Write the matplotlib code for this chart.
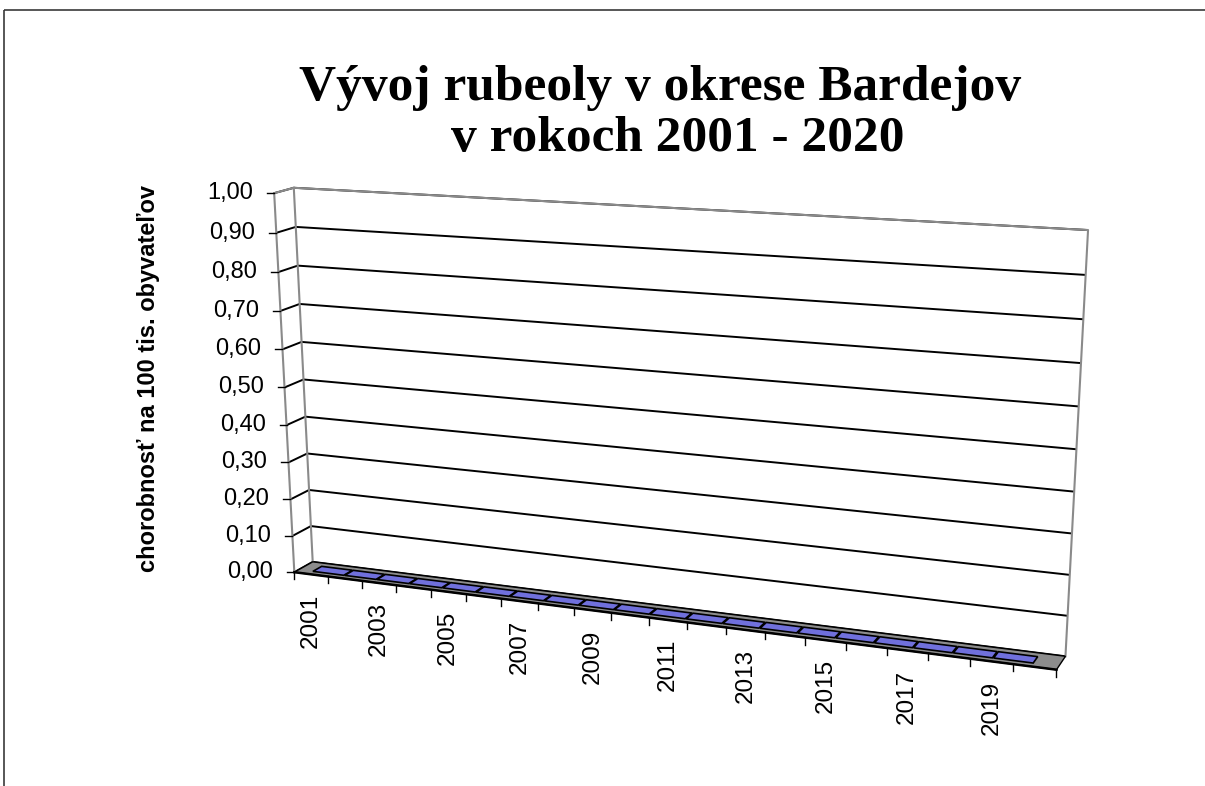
import numpy as np
import matplotlib
matplotlib.use('Agg')
import matplotlib.pyplot as plt
from matplotlib.patches import Polygon, Rectangle

# data
years = [2001, 2002, 2003, 2004, 2005, 2006, 2007, 2008, 2009, 2010,
         2011, 2012, 2013, 2014, 2015, 2016, 2017, 2018, 2019, 2020]
values = [0, 0, 0, 0, 0, 0, 0, 0, 0, 0,
          0, 0, 0, 0, 0, 0, 0, 0, 0, 0]
y_ticks = [0.0, 0.1, 0.2, 0.3, 0.4, 0.5, 0.6, 0.7, 0.8, 0.9, 1.0]
y_tick_labels = ['0,00', '0,10', '0,20', '0,30', '0,40', '0,50',
                 '0,60', '0,70', '0,80', '0,90', '1,00']
y_max = 1.0
title_lines = ['Vývoj rubeoly v okrese Bardejov', 'v rokoch 2001 - 2020']
y_title = 'chorobnosť na 100 tis. obyvateľov'

#------------------------------------------------------------------------------
# pseudo 3D "camera": world (u across, v up, d toward viewer) -> pixels
world_pts = [(0, 1, 0), (1, 1, 0), (0, 0, 0), (1, 0, 0),
             (0, 0, 1), (1, 0, 1), (0, 1, 1)]
pix_pts = [(295, 187), (1088, 230), (312, 562), (1065, 657),
           (295, 572), (1057, 669), (273, 194)]


def fit_camera(world, img):
    img = np.array(img, float)
    m = img.mean(0)
    s = img.std()
    n = (img - m) / s
    A = []
    for (X, Y, Z), (x, y) in zip(world, n):
        A.append([X, Y, Z, 1, 0, 0, 0, 0, -x*X, -x*Y, -x*Z, -x])
        A.append([0, 0, 0, 0, X, Y, Z, 1, -y*X, -y*Y, -y*Z, -y])
    _, _, vt = np.linalg.svd(np.array(A))
    P = vt[-1].reshape(3, 4)
    T = np.array([[s, 0, m[0]], [0, s, m[1]], [0, 0, 1]])
    return T @ P


P = fit_camera(world_pts, pix_pts)


def proj(u, v, d):
    p = P @ np.array([u, v, d, 1.0])
    return p[0] / p[2], p[1] / p[2]


#------------------------------------------------------------------------------
W, H = 1205, 786
fig = plt.figure(figsize=(W / 100, H / 100), dpi=100)
ax = fig.add_axes([0, 0, 1, 1])
ax.set_xlim(0, W)
ax.set_ylim(H, 0)
ax.axis('off')

sans = 'Liberation Sans'
serif = 'Liberation Serif'

# chart border
ax.add_patch(Rectangle((3.5, 9.5), W + 10, H + 10, fill=False,
                       edgecolor='#3a3a3a', lw=1.2, zorder=1))

nc = len(years)

# gridlines on back wall and side wall
for t in y_ticks:
    v = t / y_max
    a = proj(0, v, 1)
    b = proj(0, v, 0)
    c = proj(1, v, 0)
    ax.plot([a[0], b[0], c[0]], [a[1], b[1], c[1]], color='black',
            lw=1.4, zorder=2, solid_capstyle='butt')

# wall outlines (gray)
grey = '#8a8a8a'
pts = [proj(0, 1, 1), proj(0, 1, 0), proj(1, 1, 0), proj(1, 0, 0)]
ax.plot([p[0] for p in pts], [p[1] for p in pts], color=grey, lw=1.5, zorder=3)
pts = [proj(0, 1, 0), proj(0, 0, 0)]
ax.plot([p[0] for p in pts], [p[1] for p in pts], color=grey, lw=1.5, zorder=3)
pts = [proj(0, 1, 1), proj(0, 0, 1)]
ax.plot([p[0] for p in pts], [p[1] for p in pts], color=grey, lw=1.5, zorder=3)

# floor
floor = [proj(0, 0, 0), proj(1, 0, 0), proj(1, 0, 1), proj(0, 0, 1)]
ax.add_patch(Polygon(floor, closed=True, facecolor='#8c8c8c',
                     edgecolor='black', lw=1.0, zorder=4))
fx = [proj(0, 0, 1), proj(1, 0, 1)]
ax.plot([p[0] for p in fx], [p[1] for p in fx], color='black', lw=1.8, zorder=5)

# bars (zero height -> only the top face is seen)
b0, b1 = 0.021, 0.972
slot = (b1 - b0) / nc
for i, val in enumerate(values):
    v = val / y_max
    u0 = b0 + i * slot
    u1 = u0 + slot * 0.97
    top = [proj(u0, v, 0.27), proj(u1, v, 0.27), proj(u1, v, 0.75), proj(u0, v, 0.75)]
    ax.add_patch(Polygon(top, closed=True, facecolor='#7070dc',
                         edgecolor='black', lw=1.2, zorder=6))

# x ticks and labels
for i in range(nc + 1):
    x, y = proj(i / nc, 0, 1)
    ax.plot([x, x], [y, y + 7], color='black', lw=1.0, zorder=5)
for i, yr in enumerate(years):
    if i % 2:
        continue
    x, y = proj((i + 0.5) / nc, 0, 1)
    ax.text(x, y + 19, str(yr), rotation=90, ha='center', va='top',
            fontsize=17.5, family=sans)

# y ticks and labels
for t, lab in zip(y_ticks, y_tick_labels):
    x, y = proj(0, t / y_max, 1)
    ax.plot([x - 7, x], [y, y], color='black', lw=1.0, zorder=5)
    ax.text(x - 21, y, lab, ha='right', va='center', fontsize=17, family=sans)

ax.text(148, 379, y_title, rotation=90, ha='center', va='center',
        fontsize=17, fontweight='bold', family=sans)

# title
ax.text(660, 100, title_lines[0], ha='center', va='baseline',
        fontsize=37, fontweight='bold', family=serif)
ax.text(678, 151, title_lines[1], ha='center', va='baseline',
        fontsize=37, fontweight='bold', family=serif)

plt.savefig('out.png', dpi=100)
